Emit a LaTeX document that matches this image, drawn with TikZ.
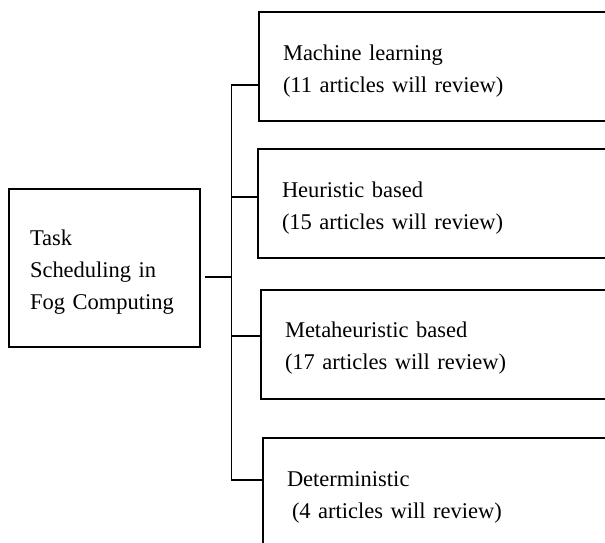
\documentclass[tikz,border=0pt]{standalone}
\usepackage{fontspec}
\setmainfont{Liberation Serif}
\usetikzlibrary{positioning}

\begin{document}
\begin{tikzpicture}[x=1pt,y=-1pt]
        \tikzstyle{topic}=[rectangle,draw,line width=2pt,align=left,inner xsep=21pt,
          text width=149pt,minimum height=158pt,text height=16pt,text depth=62pt,
          font=\fontsize{22.5}{32}\selectfont]
        \tikzstyle{branch}=[rectangle,draw,line width=2pt,align=left,anchor=west,inner xsep=24pt,
          text width=314pt,minimum width=362pt,minimum height=109pt,text height=16pt,text depth=29pt,
          font=\fontsize{22.5}{32}\selectfont]
        \tikzstyle{link}=[line width=1.6pt]
        \useasboundingbox (0,0) rectangle (605,542);
        \clip (0,0) rectangle (605,542);
        \node[topic] (task) at (104.5,268) {Task\\Scheduling in\\Fog Computing};
        \node[branch] (ml) at (258,66.5) {Machine learning\\(11 articles will review)};
        \node[branch] (heur) at (257,203.5) {Heuristic based\\(15 articles will review)};
        \node[branch] (meta) at (260,344) {Metaheuristic based\\(17 articles will review)};
        \node[branch] (det) at (262,492.5) {Deterministic\\\hspace*{5pt}(4 articles will review)};
        \coordinate (j0) at (231,277);
        \coordinate (j1) at (231,85);
        \coordinate (j2) at (231,197);
        \coordinate (j3) at (231,336);
        \coordinate (j4) at (231,480);
        \draw[link] ([shift={(4pt,-9pt)}]task.east) -- (j0);
        \draw[line width=1pt] (j1) -- (j4);
        \draw[link] (j1) -- (j1 -| ml.west);
        \draw[link] (j2) -- (j2 -| heur.west);
        \draw[link] (j3) -- (j3 -| meta.west);
        \draw[link] (j4) -- (j4 -| det.west);
\end{tikzpicture}
\end{document}
